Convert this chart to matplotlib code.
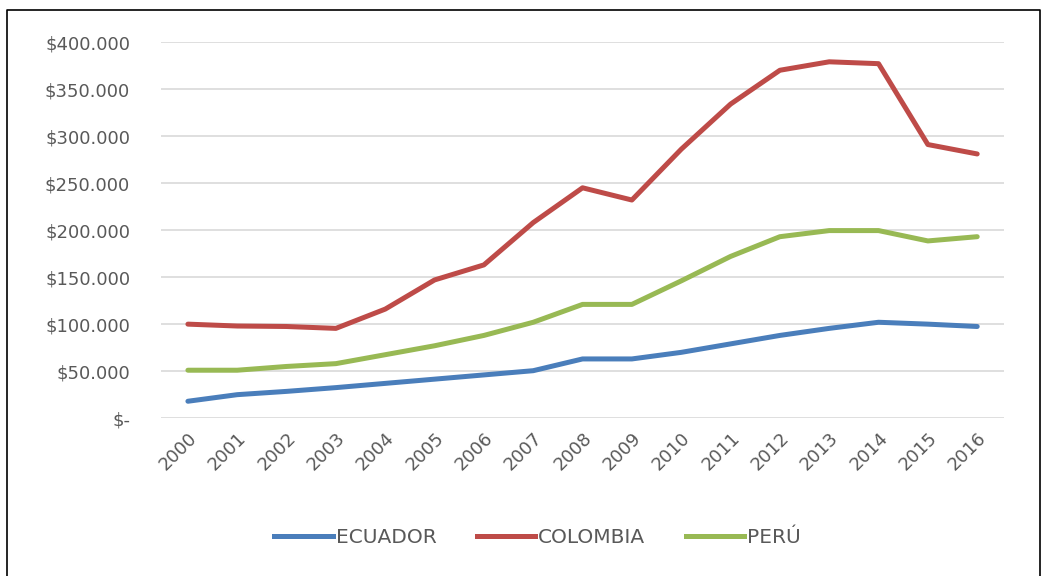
import numpy as np
import matplotlib.pyplot as plt
from matplotlib.ticker import FuncFormatter
from matplotlib.lines import Line2D

years = [str(y) for y in range(2000, 2017)]

ecuador = [18000, 25000, 28500, 32500, 37000, 41500, 46000, 50500, 63000, 63000,
           70000, 79000, 88000, 95500, 102000, 100000, 97500]
colombia = [100000, 98000, 97500, 95500, 116000, 147000, 163000, 208000, 245000, 232000,
            286000, 334000, 370000, 379000, 377000, 291000, 281000]
peru = [51000, 51000, 55000, 58000, 67500, 77000, 88000, 102000, 121000, 121000,
        146000, 172000, 193000, 199500, 199500, 188500, 193000]

series = [("ECUADOR", ecuador, "#4A7EBB"),
          ("COLOMBIA", colombia, "#BE4B48"),
          ("PERÚ", peru, "#98B954")]

plt.rcParams['font.family'] = ['DejaVu Sans']
gray = "#595959"

fig = plt.figure(figsize=(10.44, 5.76), dpi=100)
ax = fig.add_axes([0.154, 0.274, 0.808, 0.653])

x = np.arange(len(years))
for name, vals, col in series:
    ax.plot(x, vals, color=col, lw=3.6, label=name, solid_capstyle='round')

ax.set_xlim(-0.55, len(years) - 0.45)
ax.set_ylim(0, 400000)
ax.set_yticks(np.arange(0, 400001, 50000))
ax.yaxis.set_major_formatter(FuncFormatter(
    lambda v, p: "$-" if v == 0 else "$" + f"{v:,.0f}".replace(",", ".")))
ax.set_xticks(x)
ax.set_xticklabels(years, rotation=45, ha='right', rotation_mode='anchor')

ax.grid(axis='y', color='#D9D9D9', lw=1.2)
ax.set_axisbelow(True)
for s in ax.spines.values():
    s.set_visible(False)
ax.tick_params(length=0, colors=gray, labelsize=13)
ax.tick_params(axis='y', pad=22)
ax.tick_params(axis='x', pad=8)

handles = [Line2D([0], [0], color=c, lw=3.6) for _, _, c in series]
fig.legend(handles, [n for n, _, _ in series], loc='center', ncol=3,
           bbox_to_anchor=(0.515, 0.067), frameon=False, handlelength=2.9,
           handletextpad=0.15, columnspacing=2.0, labelcolor=gray, fontsize=14.5)

# marco del gráfico
fig.add_artist(Line2D([0.0067, 0.0067, 0.996, 0.996], [-0.01, 0.983, 0.983, -0.01],
                      transform=fig.transFigure, color='black', lw=1.2))

fig.savefig("out.png", dpi=100)
